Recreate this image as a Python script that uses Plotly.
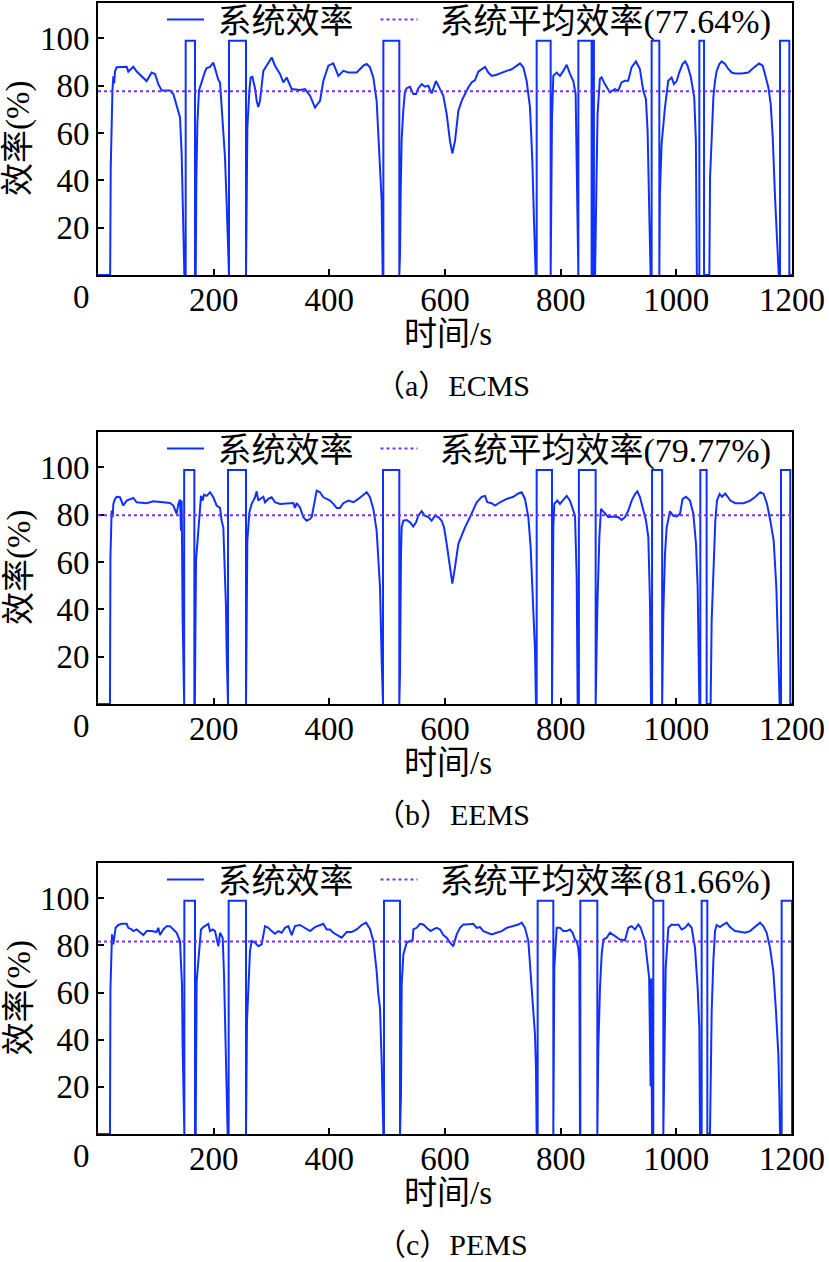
import plotly.graph_objects as go

W, H = 829, 1262

# ---------------- data ----------------
time_ecms = [0, 21, 22, 23.5, 25, 26.5, 28, 29.4, 32.3, 49.6, 52.4, 61.1, 66.9, 84.1, 92.8, 98.6, 104.3, 110.1,
             124.5, 130.3, 136, 141.8, 144.7, 146.4, 148.1, 149.3, 151.6, 151.6, 167.7, 167.7, 169, 170, 171.8,
             174.6, 179.3, 185, 187.9, 193.7, 199.4, 205.2, 208.1, 211, 215, 219.6, 222.5, 224.2, 225.4, 226.5,
             226.5, 255.9, 255.9, 257, 258.2, 261.7, 264, 266.9, 271.5, 274.4, 277.2, 280.1, 283, 285.9, 291.6,
             300.3, 306, 314.7, 320.5, 326.2, 334.9, 349.3, 357.9, 366.6, 375.2, 383.9, 389.6, 398.3, 406.9,
             415.6, 424.2, 432.9, 447.3, 458.8, 464.6, 470.3, 476.1, 481.8, 484.7, 487.6, 490.5, 492.2, 493.4,
             493.4, 521, 521, 522.2, 523.5, 525.1, 528, 530.8, 533.7, 539.5, 545.2, 549.9, 553.9, 559.7, 565.4,
             571.2, 576.9, 584.4, 591.4, 597.1, 602.9, 608.6, 612.7, 617.3, 623.1, 628.8, 634.6, 640.3, 646.1,
             651.9, 657.6, 663.4, 669.2, 674.9, 680.7, 689.3, 698, 706.6, 715.3, 723.9, 729.7, 735.4, 741.2, 747,
             751, 753.9, 756.8, 758.5, 758.5, 782.7, 782.7, 785, 787.3, 793.1, 798.8, 804.6, 810.4, 816.1, 821.9,
             825.9, 827.7, 829.4, 830.6, 830.6, 853.5, 853.5, 856, 856, 857.5, 857.5, 859.5, 862, 863.8, 867.8,
             870.7, 876.5, 885.1, 893.7, 899.5, 905.3, 911, 916.8, 922.6, 930.1, 937, 942.8, 947.4, 950.3, 952.6,
             955.5, 957.3, 957.3, 970.6, 970.6, 971.6, 974.5, 980.3, 986, 991.8, 995.9, 1000.6, 1005, 1010.7,
             1015.3, 1019.4, 1025.2, 1031, 1033.8, 1035.5, 1039.8, 1039.8, 1047.9, 1047.9, 1057.1, 1058.3, 1061.2,
             1064, 1066.9, 1069.8, 1074.4, 1078.4, 1084.2, 1089.9, 1095.7, 1101.5, 1113, 1124.5, 1133.2, 1143,
             1149.4, 1153.4, 1159.2, 1163.2, 1166.7, 1170.7, 1174.7, 1177.1, 1179.3, 1179.3, 1195.4, 1195.4, 1200]
eff_ecms = [0, 0, 45, 72, 78, 84, 81, 86, 87.8, 88, 86, 88, 86, 82, 85.6, 85, 80.7, 78,
            78, 76.5, 71, 66.6, 51, 31, 14, 0, 0, 99, 99, 0, 0, 40, 64,
            78, 82, 86, 87.5, 88, 89.8, 85, 82.5, 81.4, 67, 49.7, 30, 11.6, 0, 0,
            99, 99, 0, 48, 62, 78, 83.5, 83.8, 79, 73.6, 71, 73.6, 80.7, 86.3, 88.5,
            92, 88.5, 85, 81.4, 83.5, 78.6, 78.2, 78.6, 75.8, 70.8, 73.6, 82, 88.5, 89.5,
            84.2, 86.3, 85.6, 85.6, 88.5, 89.2, 87.8, 83.5, 73.6, 59.5, 45.4, 31.3, 0, 0,
            99, 99, 0, 8.7, 37, 57.5, 70, 77.5, 79, 79.6, 76.5, 76.5, 79, 80.7, 79.6,
            80, 76.8, 82, 78.6, 75.8, 68, 56.7, 51.4, 56.7, 69.4, 73.6, 76.5, 79.3, 81.4,
            82.4, 86, 87, 88, 85.6, 84.2, 84.7, 85.6, 86.3, 87, 88.5, 89.5, 87.8, 82, 70.8,
            48.3, 22.9, 0, 0, 99, 99, 0, 66.6, 84.2, 85.6, 84.2, 86.3, 88.9, 85, 82,
            76.5, 45.4, 0, 0, 99, 99, 0, 0, 99, 99, 0, 0, 41, 68, 83,
            83.6, 80.7, 77.2, 78.6, 77.9, 81.4, 82.1, 82.1, 87.8, 90.3, 87.1, 77.9, 74.4, 61, 34.3,
            0, 0, 99, 99, 0, 34, 55.3, 70.8, 82.1, 83.5, 80.7, 82, 85.6, 89.2,
            90.3, 88.5, 83.5, 75, 56.7, 0, 0, 99, 99, 0, 0, 41.2, 58.1,
            75, 82.1, 86.3, 89.2, 90.3, 89.2, 87.1, 85.6, 85.2, 85.2, 85.6, 87.5, 89.4,
            88.5, 84.9, 79.3, 72.2, 58.1, 32.7, 11.6, 0, 0, 99, 99, 0, 0]

time_eems = [0, 20.7, 21.5, 22.5, 23.6, 25.4, 26.5, 29.4, 32.3, 38, 43.8, 49.6, 61.1, 66.9, 84.1, 95.7, 107.2,
             124.5, 130.3, 136, 138.9, 141.8, 143.5, 144.7, 146.4, 148.1, 149, 149, 166.6, 166.6, 167.5, 168.3,
             169.5, 173.5, 176.4, 178.1, 181, 183.3, 187.9, 193.7, 199.4, 205.2, 211, 213.8, 216.7, 219.6, 221.3,
             222.5, 224.2, 224.8, 224.8, 255.9, 255.9, 257, 258.2, 261.7, 265.7, 268.6, 271.5, 274.4, 277.2,
             280.1, 285.9, 288.8, 294.5, 300.3, 306, 314.7, 326.2, 337.8, 340.6, 343.5, 349.3, 355, 360.8, 366.6,
             369.5, 375.2, 378.1, 383.9, 389.6, 395.4, 401.2, 406.9, 412.7, 418.4, 424.2, 432.9, 441.5, 450.1,
             458.8, 464.6, 470.3, 476.1, 481.8, 484.7, 487.6, 490.5, 492.2, 492.8, 492.8, 521, 521, 522.2, 523.9,
             525.1, 528, 533.7, 539.5, 545.2, 549.9, 553.9, 559.7, 565.4, 571.2, 576.9, 582.7, 588.5, 594.2,
             598.3, 602.9, 608.6, 612.7, 617.3, 623.1, 628.8, 634.6, 643.2, 649, 654.8, 663.4, 669.2, 673.2,
             680.7, 686.5, 695.1, 706.6, 718.2, 726.8, 732.6, 738.3, 744.1, 748.1, 752.7, 755.6, 757.3, 758.5,
             758.5, 785, 785, 787.3, 789, 794.2, 798.8, 804.6, 810.4, 816.1, 820.7, 824.8, 827.7, 829.4, 831.5,
             831.5, 860.5, 860.5, 863.4, 866.9, 869.7, 876.7, 882.4, 891.1, 899.7, 905.4, 911.2, 917, 922.8,
             928.5, 932.6, 937.2, 942.9, 947.6, 951.6, 954.5, 956.2, 958, 958, 975.5, 975.5, 977.5, 980.4, 983.3,
             989, 994.8, 1000.6, 1006.3, 1010.9, 1016.7, 1023.6, 1029.4, 1034, 1036.9, 1039.8, 1041.5, 1041.5,
             1052.4, 1052.4, 1059.3, 1061.1, 1064.6, 1067.4, 1070.3, 1074.9, 1078.9, 1084.7, 1093.3, 1102,
             1116.4, 1127.9, 1136.6, 1145.2, 1151, 1156.8, 1162.5, 1168.3, 1172.9, 1176.9, 1178.7, 1181, 1181,
             1197, 1197, 1200]
eff_eems = [0, 0, 62, 77.5, 81.8, 79, 84.6, 86.7, 87.6, 87.4, 83.9, 86, 87.1, 85.3, 84.9, 85.7, 85.3,
            85, 83.9, 80.4, 84.6, 86.4, 73.3, 86, 35, 0, 0, 98.9, 98.9, 0, 0, 27,
            60.7, 73.3, 81.8, 88, 86, 88.5, 88, 89.5, 87.4, 83.9, 82.9, 77.5, 74.7, 56.5, 41,
            21.4, 0, 0, 98.9, 98.9, 0, 49.5, 69, 81, 84.6, 86, 87.4, 89.9, 86,
            86.7, 87.6, 85.3, 86.7, 87.4, 85.3, 84.6, 84.9, 85, 82.9, 84.9, 83.1, 79, 77.5, 78.2,
            79, 86, 90.2, 89.5, 87.4, 86.7, 86, 84.6, 82.9, 82.9, 84.9, 86, 85.3, 86.7,
            88.5, 89.5, 87.4, 82.5, 73.3, 59.3, 49.5, 18.6, 0, 0, 98.9, 98.9, 0, 13, 63.5,
            74.7, 77.5, 77.8, 76.8, 75, 76.8, 79.6, 81.5, 79.6, 79, 77.5, 79.6, 79, 77.5,
            74.7, 67.7, 56.5, 50.9, 57.9, 67.7, 71.2, 74.7, 79, 82.5, 85.3, 87.6, 88, 85.3,
            84.9, 83.9, 85.3, 86.7, 87.6, 89, 89.5, 86.7, 79, 66.3, 42.5, 22.8, 0, 0,
            98.9, 98.9, 0, 74.7, 84.6, 86, 84.6, 86.2, 88, 86, 82.9, 79.6, 53.7, 0, 0,
            98.9, 98.9, 0, 41, 70.5, 82.5, 80.4, 79, 79.3, 79, 77.8, 79, 81.8, 86,
            88.8, 89.9, 87.4, 82.5, 77.5, 70.5, 42.5, 0, 0, 98.9, 98.9, 0, 38.2, 63.5, 74.7,
            81.5, 79.6, 79.3, 80.4, 86.7, 87.6, 86, 80.4, 67.7, 49.5, 0, 0, 98.9,
            98.9, 0, 0, 35.4, 63.5, 77.5, 86, 88.8, 87.6, 89, 86, 84.9,
            84.9, 86, 87.6, 89.5, 88.8, 84.6, 77.5, 69.1, 49.5, 21.4, 0, 0, 98.9,
            98.9, 0, 0]

time_pems = [0, 20.7, 21.5, 22.5, 24.2, 26.5, 28.2, 30.5, 35.2, 40.9, 49.6, 52.4, 58.2, 61.1, 66.9, 72.6, 78.4,
             84.1, 92.8, 101.4, 104.3, 107.2, 110.1, 113, 118.7, 124.5, 130.3, 136, 141.8, 143.5, 145.2, 146.4,
             148.1, 149.3, 149.3, 167.7, 167.7, 169, 169.5, 170.6, 173.5, 176.4, 178.1, 182.1, 187.9, 190.8,
             193.7, 198.3, 202.3, 205.2, 208.1, 211, 215.6, 217.9, 220.2, 222.5, 224.2, 225.9, 225.9, 255.9,
             255.9, 257.6, 259.9, 262.8, 265.7, 271.5, 277.2, 283, 288.8, 294.5, 300.3, 306, 311.8, 317.6, 323.3,
             329.1, 334.9, 340.6, 349.3, 357.9, 366.6, 375.2, 383.9, 389.6, 395.4, 401.2, 406.9, 412.7, 421.3,
             430, 438.6, 447.3, 455.9, 463.4, 470.3, 476.1, 481.8, 484.7, 487.6, 490.5, 492.2, 493.4, 494.5,
             494.5, 522.2, 522.2, 523.9, 525.1, 528, 533.7, 539.5, 544.1, 545.2, 551, 556.8, 562.5, 568.3, 575.2,
             579.8, 585.6, 591.4, 597.1, 602.9, 608.6, 614.4, 620.2, 625.9, 631.7, 637.5, 643.2, 649, 654.8,
             660.5, 666.3, 674.9, 680.7, 689.3, 698, 706.6, 718.2, 726.8, 732.6, 738.3, 744.1, 748.1, 752.7,
             755.6, 757.3, 758.5, 760.2, 760.2, 787.3, 787.3, 788, 789, 793.1, 798.8, 804.6, 810.4, 816.1, 820.7,
             824.8, 827.7, 830.5, 832.3, 833.4, 834, 834, 863.4, 863.4, 865.1, 868, 870.9, 873.8, 879.5, 885.3,
             893.9, 902.6, 911.2, 917, 922.8, 928.5, 934.3, 938.4, 945.8, 949.9, 953, 955.5, 956.5, 958, 960.2,
             960.2, 977.5, 977.5, 979.3, 981.6, 986.2, 992, 997.7, 1003.5, 1009.2, 1015, 1020.7, 1026.5, 1032.3,
             1036.9, 1039.8, 1040.9, 1043.8, 1043.8, 1053.6, 1053.6, 1058.2, 1061.1, 1064, 1066.9, 1069.7,
             1075.5, 1081.3, 1087, 1092.8, 1101.4, 1110.1, 1118.7, 1127.4, 1136, 1144.7, 1150.4, 1156.2, 1162,
             1167.7, 1172.3, 1176.4, 1178.1, 1179.3, 1182.1, 1182.1, 1200, 1200]
eff_pems = [0, 0, 61.3, 77.6, 84.7, 80.5, 84, 87.5, 88.7, 89.2, 89.2, 87.5, 86.8, 86.1, 86.8, 85.4, 84.4,
            86.1, 86.1, 85.7, 87.5, 84.4, 85.4, 86.8, 88.2, 88.2, 86.8, 85.4, 81.9, 74.8, 63.5, 36.6,
            0, 0, 99, 99, 0, 0, 26.6, 64.9, 73.4, 84.7, 86.8, 87.8, 88.9, 89.2,
            86.1, 86.8, 86.1, 82.5, 79.7, 85.4, 83.3, 67.7, 42.2, 23.8, 0, 0, 99, 99,
            0, 47.9, 62, 77.6, 81.9, 81.2, 79.7, 80.5, 88.2, 87.5, 86.1, 85, 86.1, 85.4, 87.5,
            88.2, 84.4, 88.2, 88.7, 87.5, 86.1, 87.8, 88.7, 89.2, 86.8, 86.8, 85.4, 84.4, 83.3,
            85.7, 85.7, 86.8, 88.7, 89.7, 87, 81.9, 69.1, 59.2, 53.6, 30.9, 9.7, 0, 0,
            99, 99, 0, 16.7, 63.4, 76.2, 81.2, 81.9, 82.2, 86.8, 87.5, 89.2, 88.9, 87.5, 86.1,
            86.8, 87.5, 86.8, 84.4, 83.3, 81.2, 79.7, 84.7, 87.5, 88.9, 88.9, 89.2, 89.2, 87.5,
            87.8, 86.1, 85.4, 84.7, 85.4, 86.1, 87.5, 88.2, 88.9, 89.7, 87.5, 81.9, 66.3, 52.1,
            42.2, 28.1, 0, 0, 99, 99, 0, 38, 70.5, 87.5, 87.5, 86.1, 86.1, 86.8, 85.4,
            82.5, 81.9, 79, 73.4, 0, 0, 99, 99, 0, 36.6, 62, 76.2, 82.5, 83.3, 85.4,
            84, 82.5, 82.2, 87.5, 88.2, 86.8, 88.9, 87.5, 81.9, 73.4, 66.3, 20.3, 66, 0, 0,
            99, 99, 0, 45.1, 70.5, 87.5, 88.9, 88.7, 88.9, 86.8, 87.5, 89.2, 87.5, 79,
            62, 45.1, 0, 0, 99, 99, 0, 0, 52.1, 73.4, 86.1, 88.7,
            87.8, 88.9, 89.7, 87.8, 86.1, 85.8, 85.4, 86.1, 87.8, 89.7, 88.2, 85.4, 79,
            69.1, 52.1, 33.7, 16.7, 0, 0, 99, 99, 0]

mean_values = [77.64, 79.77, 81.66]
captions = ["（a）ECMS", "（b）EEMS", "（c）PEMS"]
series_name = "系统效率"
mean_name = "系统平均效率({:.2f}%)"
x_tick_vals = [200, 400, 600, 800, 1000, 1200]
y_tick_vals = [20, 40, 60, 80, 100]
x_title = "时间/s"
y_title = "效率(%)"

times = [time_ecms, time_eems, time_pems]
effs = [eff_ecms, eff_eems, eff_pems]

# ---------------- layout helpers ----------------
FONT = "Liberation Serif, Times New Roman, Noto Sans CJK SC, serif"
LINE_C = "#1030ff"
MEAN_C = "#7a30f5"
boxes = [(3, 275), (432, 704), (863, 1134)]   # top, bottom in px
XL, XR = 98, 792
NB = "\u00a0"


def px_x(p):
    return p / W


def px_y(p):
    return 1 - p / H


fig = go.Figure()
layout = dict(width=W, height=H, autosize=False,
              margin=dict(l=0, r=0, t=0, b=0, autoexpand=False),
              paper_bgcolor="white", plot_bgcolor="white", showlegend=True,
              font=dict(family=FONT, color="black"), annotations=[])

for i in range(3):
    top, bot = boxes[i]
    sfx = "" if i == 0 else str(i + 1)
    leg = "legend" if i == 0 else f"legend{i + 1}"
    fig.add_trace(go.Scatter(x=times[i], y=effs[i], mode="lines", name=NB + series_name + NB * 2,
                             line=dict(color=LINE_C, width=2), xaxis="x" + sfx, yaxis="y" + sfx,
                             legend=leg))
    fig.add_trace(go.Scatter(x=[0, 1200], y=[mean_values[i], mean_values[i]], mode="lines",
                             name=NB * 2 + mean_name.format(mean_values[i]),
                             line=dict(color=MEAN_C, width=2, dash="dot"),
                             xaxis="x" + sfx, yaxis="y" + sfx, legend=leg))
    common = dict(ticks="inside", ticklen=6, tickwidth=1.5, tickcolor="black", showline=True,
                  linecolor="black", linewidth=2, mirror=True, showgrid=False, zeroline=False,
                  automargin=False, tickfont=dict(size=33, family=FONT, color="black"),
                  layer="below traces")
    layout["xaxis" + sfx] = dict(domain=[px_x(XL), px_x(XR)], range=[0, 1200], anchor="y" + sfx,
                                 tickvals=x_tick_vals, ticklabelstandoff=-6, **common)
    layout["yaxis" + sfx] = dict(domain=[px_y(bot), px_y(top)], range=[0, 115], anchor="x" + sfx,
                                 tickvals=y_tick_vals, **common)
    layout[leg] = dict(orientation="h", x=px_x(162), xanchor="left", y=px_y(top - 12), yanchor="top",
                       bgcolor="rgba(0,0,0,0)", font=dict(size=34, family=FONT, color="black"),
                       itemwidth=37)
    ann = layout["annotations"]
    base = dict(xref="paper", yref="paper", showarrow=False, xanchor="center", yanchor="middle")
    ann.append(dict(text="0", x=px_x(81), y=px_y(bot + 22),
                    font=dict(size=33, family=FONT, color="black"), **base))
    ann.append(dict(text=x_title, x=px_x(448), y=px_y(bot + 59),
                    font=dict(size=33, family=FONT, color="black"), **base))
    ann.append(dict(text=captions[i], x=px_x(452), y=px_y(bot + 110),
                    font=dict(size=30, family=FONT, color="black"), **base))
    ann.append(dict(text=y_title, x=px_x(19), y=px_y((top + bot) / 2), textangle=-90,
                    font=dict(size=33, family=FONT, color="black"), **base))

fig.update_layout(**layout)
fig.write_html("out.html", config={"responsive": False, "displayModeBar": False},
               post_script="document.body.style.margin='0';document.body.style.overflow='hidden';"
                           "document.documentElement.style.overflow='hidden';")
